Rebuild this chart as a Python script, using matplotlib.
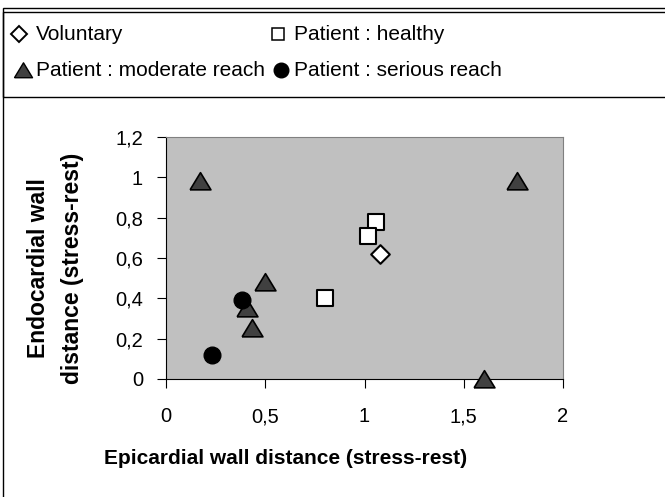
import matplotlib
matplotlib.use("Agg")
import matplotlib.pyplot as plt
from matplotlib.patches import Rectangle
import numpy as np

plt.rcParams['font.family'] = ['Liberation Sans', 'DejaVu Sans']

# Data
vol_x = [1.08]
vol_y = [0.62]
healthy_x = [1.06, 1.02, 0.80]
healthy_y = [0.78, 0.71, 0.40]
moderate_x = [0.17, 1.77, 1.60, 0.50, 0.41, 0.435]
moderate_y = [0.98, 0.98, 0.0, 0.48, 0.35, 0.255]
serious_x = [0.385, 0.23]
serious_y = [0.39, 0.12]

x_ticks = [0, 0.5, 1, 1.5, 2]
x_labels = ['0', '0,5', '1', '1,5', '2']
y_ticks = [0, 0.2, 0.4, 0.6, 0.8, 1.0, 1.2]
y_labels = ['0', '0,2', '0,4', '0,6', '0,8', '1', '1,2']
legend_labels = ['Voluntary', 'Patient : healthy', 'Patient : moderate reach', 'Patient : serious reach']

W, H = 665, 497
fig = plt.figure(figsize=(W / 100, H / 100), dpi=100)

def fx(px):
    return px / W

def fy(py):
    return 1 - py / H

# outer frame and legend box
fig.patches.append(Rectangle((fx(3), fy(H + 5)), fx(W + 10), fy(8) - fy(H + 5),
                             transform=fig.transFigure, fill=False, ec='black', lw=1.0))
fig.patches.append(Rectangle((fx(3), fy(97)), fx(W + 10), fy(12) - fy(97),
                             transform=fig.transFigure, fill=False, ec='black', lw=1.0))

ax = fig.add_axes([fx(166), fy(379), fx(563) - fx(166), fy(137) - fy(379)])
ax.set_facecolor('#C0C0C0')
ax.set_xlim(0, 2)
ax.set_ylim(0, 1.2)
for s in ['top', 'right']:
    ax.spines[s].set_color('#808080')
for s in ['left', 'bottom']:
    ax.spines[s].set_color('black')
ax.set_xticks(x_ticks)
ax.set_xticklabels(x_labels)
ax.set_yticks(y_ticks)
ax.set_yticklabels(y_labels)
ax.tick_params(axis='both', direction='out', length=6.5, width=0.8, labelsize=14.5, color='black')
ax.tick_params(axis='x', pad=14)
ax.tick_params(axis='y', pad=10)

tri = [(-1, -0.8), (1, -0.8), (0, 0.85), (-1, -0.8)]

ax.scatter(moderate_x, moderate_y, marker=tri, s=15 ** 2, facecolor='#404040',
           edgecolor='black', linewidths=1.2, zorder=3, clip_on=False)
ax.scatter(serious_x, serious_y, marker='o', s=12 ** 2, facecolor='black',
           edgecolor='black', linewidths=1, zorder=3, clip_on=False)
ax.scatter(healthy_x, healthy_y, marker='s', s=11 ** 2, facecolor='white',
           edgecolor='black', linewidths=1.5, zorder=4, clip_on=False)
ax.scatter(vol_x, vol_y, marker='D', s=9.5 ** 2, facecolor='white',
           edgecolor='black', linewidths=1.5, zorder=4, clip_on=False)

# axis labels
fig.text(fx(286), fy(458), 'Epicardial wall distance (stress-rest)', ha='center', va='center',
         fontsize=15, fontweight='bold')
fig.text(fx(39), fy(268), 'Endocardial wall', ha='center', va='center', rotation=90,
         fontsize=16.5, fontweight='bold')
fig.text(fx(73), fy(268), 'distance (stress-rest)', ha='center', va='center', rotation=90,
         fontsize=16.5, fontweight='bold')

# legend (drawn manually in the top box)
leg_ax = fig.add_axes([0, 0, 1, 1], facecolor='none')
leg_ax.set_xlim(0, W)
leg_ax.set_ylim(H, 0)
leg_ax.axis('off')
leg_ax.plot([19], [34], ls='none', marker='D', ms=8.5, mfc='white', mec='black', mew=1.4)
leg_ax.plot([277.5], [34], ls='none', marker='s', ms=8, mfc='white', mec='black', mew=1.1)
leg_ax.plot([23], [70], ls='none', marker=tri, ms=13, mfc='#404040', mec='black', mew=1)
leg_ax.plot([281], [70], ls='none', marker='o', ms=10.5, mfc='black', mec='black', mew=1)
leg_ax.text(36, 34, legend_labels[0], ha='left', va='center', fontsize=15)
leg_ax.text(294, 34, legend_labels[1], ha='left', va='center', fontsize=15)
leg_ax.text(36, 70, legend_labels[2], ha='left', va='center', fontsize=15)
leg_ax.text(294, 70, legend_labels[3], ha='left', va='center', fontsize=15)

fig.savefig('out.png', dpi=100)
